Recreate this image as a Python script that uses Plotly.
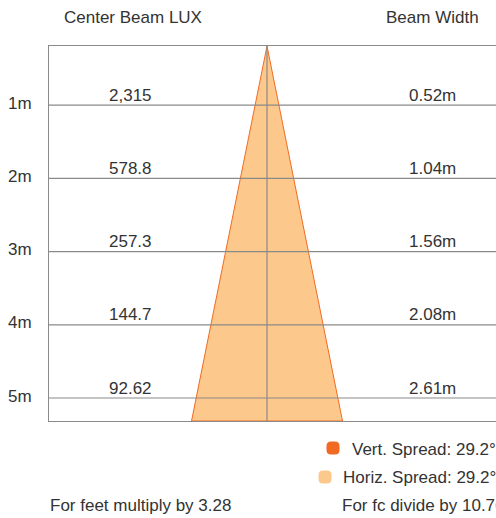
import math
import plotly.graph_objects as go

# ---- data ----
distances = [1, 2, 3, 4, 5]
distance_labels = ["1m", "2m", "3m", "4m", "5m"]
center_lux = ["2,315", "578.8", "257.3", "144.7", "92.62"]
beam_width = ["0.52m", "1.04m", "1.56m", "2.08m", "2.61m"]
vert_spread = 29.2
horiz_spread = 29.2

# ---- layout constants ----
W, H = 496, 518
ML, MR, MT, MB = 49, 0, 46, 97
Y_RANGE = [5.314, 0.191]          # reversed: depth grows downward
X_RANGE = [-3.854, 4.048]
TEXT = "#333333"
GRID = "#8a8a8a"
EDGE = "#f26a22"
FILL = "#fcc88b"
FONT = "Liberation Sans, Arial, sans-serif"
FS = 17

y_top, y_bot = Y_RANGE[1], Y_RANGE[0]
half = (y_bot - y_top) * math.tan(math.radians(horiz_spread / 2))

fig = go.Figure()

# beam triangle
fig.add_trace(go.Scatter(
    x=[0, -half, half, 0], y=[y_top, y_bot, y_bot, y_top],
    mode="lines", fill="toself", fillcolor=FILL,
    line=dict(color=EDGE, width=1), hoverinfo="skip", showlegend=False))

# horizontal distance lines
hx, hy = [], []
for d in distances:
    hx += [X_RANGE[0], X_RANGE[1], None]
    hy += [d, d, None]
fig.add_trace(go.Scatter(x=hx, y=hy, mode="lines",
                         line=dict(color=GRID, width=1.2),
                         hoverinfo="skip", showlegend=False))
# center line
fig.add_trace(go.Scatter(x=[0, 0], y=[y_top, y_bot], mode="lines",
                         line=dict(color=GRID, width=1.2),
                         hoverinfo="skip", showlegend=False))

pw = W - ML - MR
ph = H - MT - MB
def px2paper_x(px):
    return (px - ML) / pw
def px2paper_y(py):
    return 1 - (py - MT) / ph

font = dict(family=FONT, size=FS, color=TEXT)
annotations = []
for d, lbl, lux, bw in zip(distances, distance_labels, center_lux, beam_width):
    annotations.append(dict(x=0, xref="paper", y=d, yref="y", text=lbl,
                            showarrow=False, xanchor="right", yanchor="middle",
                            xshift=-15, yshift=2, font=font))
    annotations.append(dict(x=px2paper_x(130), xref="paper", y=d, yref="y",
                            text=lux, showarrow=False, xanchor="center",
                            yanchor="middle", yshift=10, font=font))
    annotations.append(dict(x=px2paper_x(432), xref="paper", y=d, yref="y",
                            text=bw, showarrow=False, xanchor="center",
                            yanchor="middle", yshift=10, font=font))

annotations += [
    dict(x=px2paper_x(133), y=px2paper_y(17), xref="paper", yref="paper",
         xanchor="center", yanchor="middle",
         text="Center Beam LUX", showarrow=False, font=font),
    dict(x=px2paper_x(432), y=px2paper_y(17), xref="paper", yref="paper",
         xanchor="center", yanchor="middle",
         text="Beam Width", showarrow=False, font=font),
    dict(x=px2paper_x(350), y=px2paper_y(449), xref="paper", yref="paper",
         xanchor="left", yanchor="middle", text=f"Vert. Spread: {vert_spread}°",
         showarrow=False, font=font),
    dict(x=px2paper_x(341), y=px2paper_y(477), xref="paper", yref="paper",
         xanchor="left", yanchor="middle", text=f"Horiz. Spread: {horiz_spread}°",
         showarrow=False, font=font),
    dict(x=px2paper_x(48), y=px2paper_y(506), xref="paper", yref="paper",
         xanchor="left", yanchor="middle", text="For feet multiply by 3.28",
         showarrow=False, font=font),
    dict(x=px2paper_x(340), y=px2paper_y(506), xref="paper", yref="paper",
         xanchor="left", yanchor="middle", text="For fc divide by 10.76",
         showarrow=False, font=font),
]

def rounded_square(cx, cy, color, s=6.5, r=4.5):
    path = (f"M {-s+r},{-s} L {s-r},{-s} Q {s},{-s} {s},{-s+r} "
            f"L {s},{s-r} Q {s},{s} {s-r},{s} L {-s+r},{s} Q {-s},{s} {-s},{s-r} "
            f"L {-s},{-s+r} Q {-s},{-s} {-s+r},{-s} Z")
    return dict(type="path", xref="paper", yref="paper", xsizemode="pixel",
                ysizemode="pixel", xanchor=px2paper_x(cx), yanchor=px2paper_y(cy),
                path=path, fillcolor=color, line=dict(width=0))

fig.update_layout(
    width=W, height=H,
    margin=dict(l=ML, r=MR, t=MT, b=MB, pad=0),
    paper_bgcolor="white", plot_bgcolor="white",
    font=font,
    showlegend=False,
    annotations=annotations,
    shapes=[rounded_square(333, 448, EDGE), rounded_square(325, 477, FILL)],
    xaxis=dict(range=X_RANGE, showgrid=False, zeroline=False, showticklabels=False,
               showline=True, linecolor=GRID, linewidth=1.2, mirror=True, fixedrange=True),
    yaxis=dict(range=Y_RANGE, showgrid=False, zeroline=False, showline=True,
               linecolor=GRID, linewidth=1.2, showticklabels=False, ticks="",
               fixedrange=True),
)

fig.write_html("out.html", config={"displayModeBar": False},
               post_script="document.body.style.margin='0';document.body.style.overflow='hidden';")
